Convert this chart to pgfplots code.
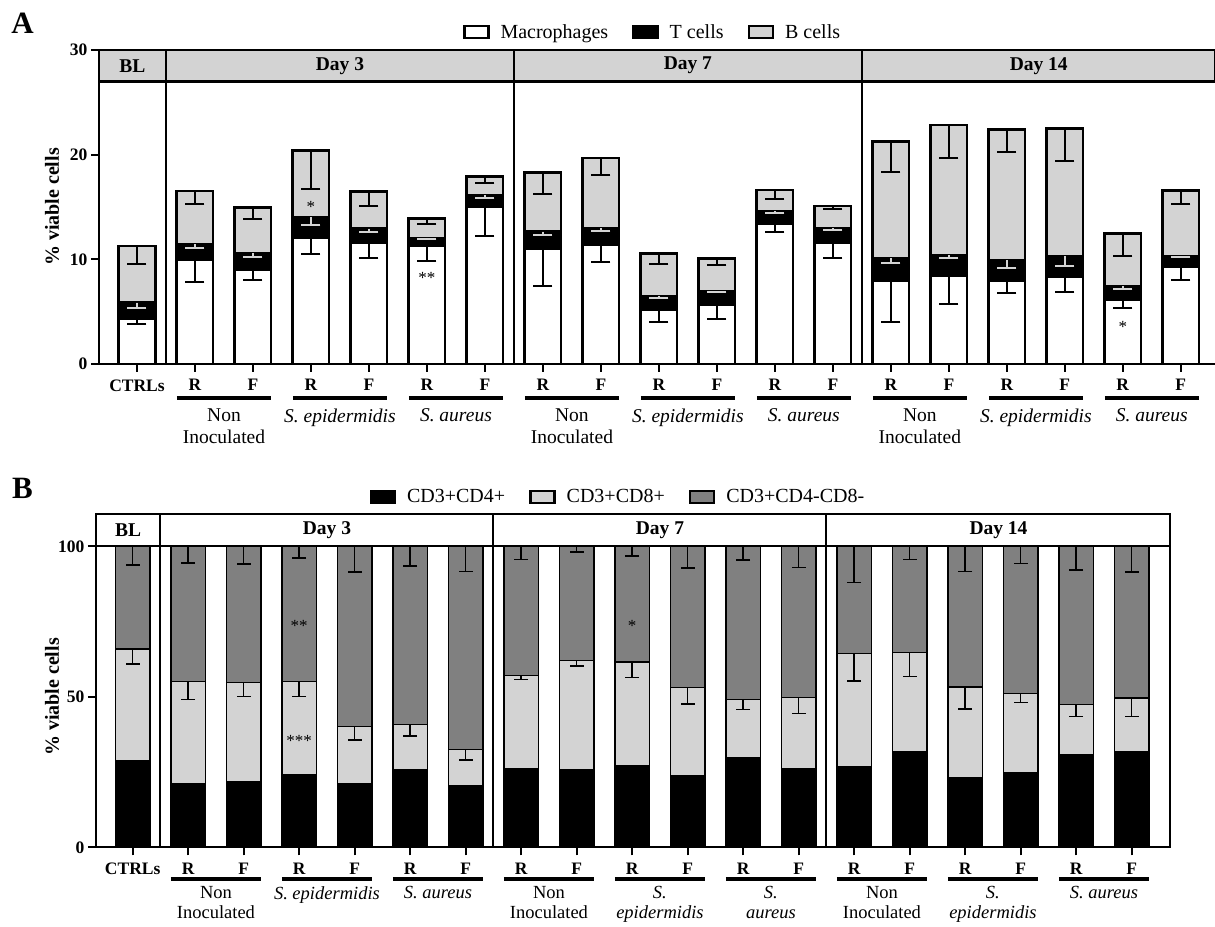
\documentclass[border=0pt]{standalone}
\usepackage{fontspec}
\setmainfont{Liberation Serif}
\usepackage{pgfplots}
\usepackage{pgfplotstable}
\pgfplotsset{compat=1.18}
\definecolor{lgray}{RGB}{211,211,211}
\definecolor{dgray}{RGB}{128,128,128}

\pgfplotstableread{
x mac t b emac et eb
0 4.36 5.86 11.27 0.57 0.54 1.67
1 9.94 11.43 16.53 2.14 0.38 1.28
2 9.04 10.57 14.94 1.01 0.35 1.12
3 12.10 14.01 20.38 1.60 0.73 3.63
4 11.62 12.93 16.46 1.52 0.32 1.36
5 11.30 12.04 13.92 1.43 0.07 0.58
6 15.06 16.11 17.90 2.83 0.22 0.64
7 11.05 12.64 18.28 3.57 0.28 2.07
8 11.37 12.99 19.68 1.59 0.25 1.62
9 5.22 6.50 10.54 1.18 0.23 0.95
10 5.67 6.97 10.10 1.34 0.09 0.64
11 13.38 14.59 16.62 0.80 0.13 0.89
12 11.62 12.99 15.10 1.46 0.19 0.29
13 7.93 10.10 21.24 3.89 0.45 2.86
14 8.44 10.41 22.83 2.71 0.25 3.12
15 7.93 9.90 22.39 1.18 0.76 2.10
16 8.31 10.32 22.52 1.40 0.93 3.16
17 6.15 7.45 12.45 0.80 0.25 2.10
18 9.27 10.29 16.56 1.21 0.07 1.27
}\tabA

\pgfplotstableread{
x cd4 cd8 dn ecd8 edn
0 28.8 65.9 100 4.9 6.1
1 21.3 55.2 100 6.1 5.5
2 21.7 54.8 100 4.6 5.9
3 24.3 55.2 100 5.0 3.8
4 21.2 40.2 100 4.6 8.5
5 25.8 40.7 100 3.7 6.5
6 20.5 32.4 100 3.4 8.3
7 26.2 57.1 100 1.4 4.4
8 25.8 62.0 100 1.7 1.8
9 27.2 61.6 100 5.2 3.2
10 23.8 53.0 100 5.3 7.2
11 29.7 49.1 100 3.3 4.5
12 26.2 49.9 100 5.4 7.0
13 26.8 64.3 100 9.0 11.9
14 31.7 64.7 100 7.9 4.4
15 23.2 53.3 100 7.3 8.3
16 24.8 51.2 100 3.0 5.7
17 30.8 47.6 100 4.1 7.9
18 31.7 49.6 100 6.1 8.4
}\tabB

\newcommand{\tickfont}{\fontsize{17.5}{20}\selectfont\bfseries}
\newcommand{\headfont}{\fontsize{19.5}{22}\selectfont\bfseries}
\newcommand{\grpfont}{\fontsize{19.5}{21.5}\selectfont}
\newcommand{\grpfontB}{\fontsize{18.5}{20}\selectfont}
\newcommand{\legfont}{\fontsize{20}{22}\selectfont}

\begin{document}
\begin{tikzpicture}
\path[use as bounding box] (0pt,0pt) rectangle (1215pt,926pt);
\node[font=\fontsize{31}{34}\selectfont\bfseries] at (22.5pt,903pt) {A};
\node[font=\fontsize{31}{34}\selectfont\bfseries] at (22.5pt,438pt) {B};

% ---------------- Panel A ----------------
\begin{axis}[
  at={(99pt,562pt)}, anchor=south west, scale only axis,
  width=1116pt, height=314pt,
  xmin=-0.655, xmax=18.59, ymin=0, ymax=30,
  axis x line=bottom, axis y line=left,
  axis line style={-, line width=2.5pt},
  ytick={0,10,20,30}, xtick={0,...,18},
  xticklabels={CTRLs,R,F,R,F,R,F,R,F,R,F,R,F,R,F,R,F,R,F},
  tick align=outside, major tick length=8pt,
  tick style={line width=2pt, black},
  ticklabel style={font=\tickfont},
  xticklabel style={yshift=-4pt},
  /pgf/number format/assume math mode=true,
  ylabel={\% viable cells},
  ylabel style={font=\fontsize{20}{22}\selectfont\bfseries, at={(axis description cs:-0.042,0.5)}, anchor=center},
  clip=false,
  bar width=0.63, bar shift=0pt,
  legend columns=3,
  legend style={draw=none, fill=none, font=\legfont, at={(axis description cs:0.496,1.057)}, anchor=center,
    /tikz/every odd column/.append style={column sep=9pt},
    /tikz/every even column/.append style={column sep=22pt}},
  legend image code/.code={\draw[#1] (0pt,-6pt) rectangle (24pt,6pt);},
]
\addlegendimage{fill=white, draw=black, line width=2.5pt}
\addlegendentry{Macrophages}
\addlegendimage{fill=black, draw=black, line width=2.5pt}
\addlegendentry{T cells}
\addlegendimage{fill=lgray, draw=black, line width=2.5pt}
\addlegendentry{B cells}

\addplot[forget plot, ybar, fill=lgray, draw=black, line width=2.5pt,
  error bars/.cd, y dir=minus, y explicit,
  error bar style={line width=2pt, black},
  error mark options={rotate=90, black, line width=2pt, mark size=9.5pt}]
  table[x=x, y=b, y error=eb]{\tabA};
\addplot[forget plot, ybar, fill=black, draw=black, line width=2.5pt,
  error bars/.cd, y dir=minus, y explicit,
  error bar style={line width=2pt, lgray},
  error mark options={rotate=90, lgray, line width=2pt, mark size=9.5pt}]
  table[x=x, y=t, y error=et]{\tabA};
\addplot[forget plot, ybar, fill=white, draw=black, line width=2.5pt,
  error bars/.cd, y dir=minus, y explicit,
  error bar style={line width=2pt, black},
  error mark options={rotate=90, black, line width=2pt, mark size=9.5pt}]
  table[x=x, y=mac, y error=emac]{\tabA};

\filldraw[fill=lgray, draw=black, line width=2.5pt] (axis cs:-0.655,27) rectangle (axis cs:18.59,30);
\draw[line width=2.5pt] (axis cs:0.5,0) -- (axis cs:0.5,30);
\draw[line width=2.5pt] (axis cs:6.5,0) -- (axis cs:6.5,30);
\draw[line width=2.5pt] (axis cs:12.5,0) -- (axis cs:12.5,30);
\node[font=\headfont] at (axis cs:-0.08,28.5) {BL};
\node[font=\headfont] at (axis cs:3.5,28.5) {Day 3};
\node[font=\headfont] at (axis cs:9.5,28.5) {Day 7};
\node[font=\headfont] at (axis cs:15.55,28.5) {Day 14};

\node[font=\fontsize{17}{20}\selectfont] at (axis cs:3,15.0) {*};
\node[font=\fontsize{17}{20}\selectfont] at (axis cs:5,8.18) {**};
\node[font=\fontsize{17}{20}\selectfont] at (axis cs:17,3.57) {*};

\draw[line width=4pt] (axis cs:0.69,-3.25) -- (axis cs:2.31,-3.25);
\draw[line width=4pt] (axis cs:2.69,-3.25) -- (axis cs:4.31,-3.25);
\draw[line width=4pt] (axis cs:4.69,-3.25) -- (axis cs:6.31,-3.25);
\draw[line width=4pt] (axis cs:6.69,-3.25) -- (axis cs:8.31,-3.25);
\draw[line width=4pt] (axis cs:8.69,-3.25) -- (axis cs:10.31,-3.25);
\draw[line width=4pt] (axis cs:10.69,-3.25) -- (axis cs:12.31,-3.25);
\draw[line width=4pt] (axis cs:12.69,-3.25) -- (axis cs:14.31,-3.25);
\draw[line width=4pt] (axis cs:14.69,-3.25) -- (axis cs:16.31,-3.25);
\draw[line width=4pt] (axis cs:16.69,-3.25) -- (axis cs:18.31,-3.25);
\node[font=\grpfont, align=center, anchor=north] at (axis cs:1.5,-3.95) {Non\\Inoculated};
\node[font=\grpfont, align=center, anchor=north] at (axis cs:3.5,-3.95) {\textit{S. epidermidis}};
\node[font=\grpfont, align=center, anchor=north] at (axis cs:5.5,-3.95) {\textit{S. aureus}};
\node[font=\grpfont, align=center, anchor=north] at (axis cs:7.5,-3.95) {Non\\Inoculated};
\node[font=\grpfont, align=center, anchor=north] at (axis cs:9.5,-3.95) {\textit{S. epidermidis}};
\node[font=\grpfont, align=center, anchor=north] at (axis cs:11.5,-3.95) {\textit{S. aureus}};
\node[font=\grpfont, align=center, anchor=north] at (axis cs:13.5,-3.95) {Non\\Inoculated};
\node[font=\grpfont, align=center, anchor=north] at (axis cs:15.5,-3.95) {\textit{S. epidermidis}};
\node[font=\grpfont, align=center, anchor=north] at (axis cs:17.5,-3.95) {\textit{S. aureus}};
\end{axis}

% ---------------- Panel B ----------------
\begin{axis}[
  at={(96pt,78.7pt)}, anchor=south west, scale only axis,
  width=1074pt, height=333.3pt,
  xmin=-0.661, xmax=18.69, ymin=0, ymax=110.8,
  axis line style={line width=2pt},
  xtick pos=left, ytick pos=left,
  ytick={0,50,100}, xtick={0,...,18},
  xticklabels={CTRLs,R,F,R,F,R,F,R,F,R,F,R,F,R,F,R,F,R,F},
  tick align=outside, major tick length=8pt,
  tick style={line width=2pt, black},
  ticklabel style={font=\tickfont},
  xticklabel style={yshift=-4pt},
  /pgf/number format/assume math mode=true,
  ylabel={\% viable cells},
  ylabel style={font=\fontsize{20}{22}\selectfont\bfseries, at={(axis description cs:-0.041,0.451)}, anchor=center},
  clip=false,
  bar width=0.62, bar shift=0pt,
  legend columns=3,
  legend style={draw=none, fill=none, font=\legfont, at={(axis description cs:0.486,1.051)}, anchor=center,
    /tikz/every odd column/.append style={column sep=9pt},
    /tikz/every even column/.append style={column sep=22pt}},
  legend image code/.code={\draw[#1] (0pt,-6pt) rectangle (24pt,6pt);},
]
\addlegendimage{fill=black, draw=black, line width=2.5pt}
\addlegendentry{CD3+CD4+}
\addlegendimage{fill=lgray, draw=black, line width=2.5pt}
\addlegendentry{CD3+CD8+}
\addlegendimage{fill=dgray, draw=black, line width=2.5pt}
\addlegendentry{CD3+CD4-CD8-}

\addplot[forget plot, ybar, fill=dgray, draw=black, line width=1.5pt,
  error bars/.cd, y dir=minus, y explicit,
  error bar style={line width=1.5pt, black},
  error mark options={rotate=90, black, line width=1.5pt, mark size=7pt}]
  table[x=x, y=dn, y error=edn]{\tabB};
\addplot[forget plot, ybar, fill=lgray, draw=black, line width=1.2pt,
  error bars/.cd, y dir=minus, y explicit,
  error bar style={line width=1.5pt, black},
  error mark options={rotate=90, black, line width=1.5pt, mark size=7pt}]
  table[x=x, y=cd8, y error=ecd8]{\tabB};
\addplot[forget plot, ybar, fill=black, draw=black, line width=1.2pt]
  table[x=x, y=cd4]{\tabB};

\draw[line width=2pt] (axis cs:-0.661,100) -- (axis cs:18.69,100);
\draw[line width=2pt] (axis cs:0.5,0) -- (axis cs:0.5,110.8);
\draw[line width=2pt] (axis cs:6.5,0) -- (axis cs:6.5,110.8);
\draw[line width=2pt] (axis cs:12.5,0) -- (axis cs:12.5,110.8);
\node[font=\headfont] at (axis cs:-0.08,105.4) {BL};
\node[font=\headfont] at (axis cs:3.5,105.4) {Day 3};
\node[font=\headfont] at (axis cs:9.5,105.4) {Day 7};
\node[font=\headfont] at (axis cs:15.6,105.4) {Day 14};

\node[font=\fontsize{17}{20}\selectfont] at (axis cs:3,73.7) {**};
\node[font=\fontsize{17}{20}\selectfont] at (axis cs:3,35.4) {***};
\node[font=\fontsize{17}{20}\selectfont] at (axis cs:9,73.7) {*};

\draw[line width=4pt] (axis cs:0.69,-10.54) -- (axis cs:2.31,-10.54);
\draw[line width=4pt] (axis cs:2.69,-10.54) -- (axis cs:4.31,-10.54);
\draw[line width=4pt] (axis cs:4.69,-10.54) -- (axis cs:6.31,-10.54);
\draw[line width=4pt] (axis cs:6.69,-10.54) -- (axis cs:8.31,-10.54);
\draw[line width=4pt] (axis cs:8.69,-10.54) -- (axis cs:10.31,-10.54);
\draw[line width=4pt] (axis cs:10.69,-10.54) -- (axis cs:12.31,-10.54);
\draw[line width=4pt] (axis cs:12.69,-10.54) -- (axis cs:14.31,-10.54);
\draw[line width=4pt] (axis cs:14.69,-10.54) -- (axis cs:16.31,-10.54);
\draw[line width=4pt] (axis cs:16.69,-10.54) -- (axis cs:18.31,-10.54);
\node[font=\grpfontB, align=center, anchor=north, inner sep=1pt] at (axis cs:1.5,-12.6) {Non\\Inoculated};
\node[font=\grpfontB, align=center, anchor=north, inner sep=1pt] at (axis cs:3.5,-12.6) {\textit{S. epidermidis}};
\node[font=\grpfontB, align=center, anchor=north, inner sep=1pt] at (axis cs:5.5,-12.6) {\textit{S. aureus}};
\node[font=\grpfontB, align=center, anchor=north, inner sep=1pt] at (axis cs:7.5,-12.6) {Non\\Inoculated};
\node[font=\grpfontB, align=center, anchor=north, inner sep=1pt] at (axis cs:9.5,-12.6) {\textit{S.}\\\textit{epidermidis}};
\node[font=\grpfontB, align=center, anchor=north, inner sep=1pt] at (axis cs:11.5,-12.6) {\textit{S.}\\\textit{aureus}};
\node[font=\grpfontB, align=center, anchor=north, inner sep=1pt] at (axis cs:13.5,-12.6) {Non\\Inoculated};
\node[font=\grpfontB, align=center, anchor=north, inner sep=1pt] at (axis cs:15.5,-12.6) {\textit{S.}\\\textit{epidermidis}};
\node[font=\grpfontB, align=center, anchor=north, inner sep=1pt] at (axis cs:17.5,-12.6) {\textit{S. aureus}};
\end{axis}
\end{tikzpicture}
\end{document}
